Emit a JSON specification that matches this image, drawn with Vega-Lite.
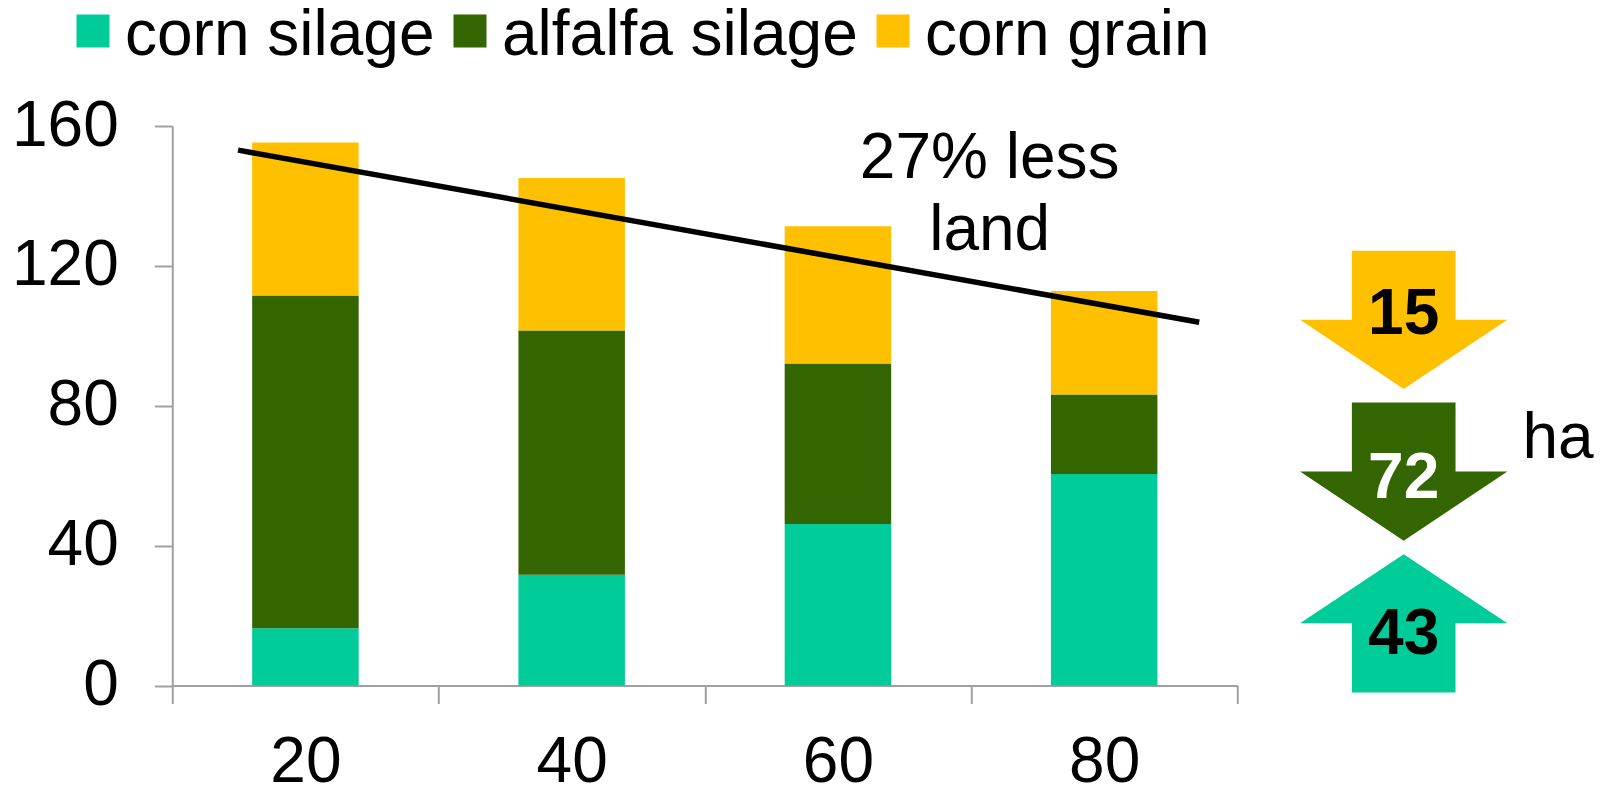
{
  "$schema": "https://vega.github.io/schema/vega-lite/v6.json",
  "width": 1065,
  "height": 559.5,
  "autosize": {"type": "none"},
  "padding": {"left": 172.3, "top": 126, "right": 372.7, "bottom": 103.5},
  "background": "white",
  "config": {
    "view": {"stroke": null},
    "font": "Liberation Sans",
    "text": {"font": "Liberation Sans"},
    "axis": {
      "grid": false,
      "title": null,
      "domainColor": "#a0a0a0",
      "domainWidth": 2,
      "tickColor": "#a0a0a0",
      "tickWidth": 2,
      "tickSize": 18,
      "labelFont": "Liberation Sans",
      "labelFontSize": 64,
      "labelColor": "black"
    }
  },
  "datasets": {
    "land": [
      {"level": "20", "crop": "corn silage", "tier": 1, "ha": 16.4},
      {"level": "20", "crop": "alfalfa silage", "tier": 2, "ha": 95.1},
      {"level": "20", "crop": "corn grain", "tier": 3, "ha": 43.8},
      {"level": "40", "crop": "corn silage", "tier": 1, "ha": 31.7},
      {"level": "40", "crop": "alfalfa silage", "tier": 2, "ha": 69.8},
      {"level": "40", "crop": "corn grain", "tier": 3, "ha": 43.6},
      {"level": "60", "crop": "corn silage", "tier": 1, "ha": 46.2},
      {"level": "60", "crop": "alfalfa silage", "tier": 2, "ha": 45.9},
      {"level": "60", "crop": "corn grain", "tier": 3, "ha": 39.2},
      {"level": "80", "crop": "corn silage", "tier": 1, "ha": 60.5},
      {"level": "80", "crop": "alfalfa silage", "tier": 2, "ha": 22.7},
      {"level": "80", "crop": "corn grain", "tier": 3, "ha": 29.6}
    ],
    "trend": [
      {"slot": 0.247, "ha": 153.1},
      {"slot": 3.857, "ha": 103.9}
    ],
    "shift": [
      {"crop": "corn grain", "ha": 15, "direction": "down"},
      {"crop": "alfalfa silage", "ha": 72, "direction": "down"},
      {"crop": "corn silage", "ha": 43, "direction": "up"}
    ]
  },
  "layer": [
    {
      "data": {"name": "land"},
      "mark": {"type": "bar", "width": {"band": 0.4}},
      "encoding": {
        "x": {
          "field": "level",
          "type": "ordinal",
          "scale": {"paddingInner": 0, "paddingOuter": 0},
          "axis": {"tickBand": "extent", "labelAngle": 0, "labelPadding": 27}
        },
        "y": {
          "field": "ha",
          "type": "quantitative",
          "stack": "zero",
          "scale": {"domain": [0, 160], "nice": false},
          "axis": {"values": [0, 40, 80, 120, 160], "labelPadding": 36}
        },
        "color": {
          "field": "crop",
          "type": "nominal",
          "scale": {
            "domain": ["corn silage", "alfalfa silage", "corn grain"],
            "range": ["#00CC99", "#336600", "#FFC000"]
          },
          "legend": {
            "title": null,
            "orient": "none",
            "direction": "horizontal",
            "legendX": -111.3,
            "legendY": -127,
            "padding": 0,
            "symbolType": "square",
            "symbolSize": 1089,
            "symbolStrokeWidth": 0,
            "labelFont": "Liberation Sans",
            "labelFontSize": 64,
            "labelColor": "black",
            "labelOffset": 0,
            "columnPadding": 3,
            "labelLimit": 600,
            "encode": {"labels": {"update": {"dy": {"value": 5}}}}
          }
        },
        "order": {"field": "tier", "type": "quantitative"}
      }
    },
    {
      "layer": [
        {
          "data": {"name": "trend"},
          "mark": {"type": "line", "color": "black", "strokeWidth": 5.5},
          "encoding": {
            "x": {"field": "slot", "type": "quantitative"},
            "y": {"field": "ha", "type": "quantitative"}
          }
        },
        {
          "data": {"values": [{}]},
          "mark": {
            "type": "text",
            "text": ["27% less", "land"],
            "fontSize": 64,
            "lineHeight": 71.7,
            "align": "center",
            "baseline": "alphabetic",
            "color": "black"
          },
          "encoding": {
            "x": {"datum": 3.07, "type": "quantitative"},
            "y": {"datum": 145, "type": "quantitative"}
          }
        }
      ],
      "encoding": {
        "x": {"scale": {"domain": [0, 4], "nice": false, "zero": false}, "axis": null},
        "y": {"scale": {"domain": [0, 160], "nice": false}, "axis": null}
      }
    },
    {
      "data": {"name": "shift"},
      "encoding": {
        "x": {"datum": 4.625, "type": "quantitative", "scale": {"domain": [0, 4], "nice": false, "zero": false}, "axis": null},
        "y": {
          "field": "crop",
          "type": "nominal",
          "scale": {
            "type": "point",
            "domain": ["corn grain", "alfalfa silage", "corn silage"],
            "padding": 0.8438,
            "align": 0.757
          },
          "axis": null
        }
      },
      "layer": [
        {
          "mark": {"type": "point", "filled": true, "size": 42973, "opacity": 1, "strokeWidth": 0},
          "encoding": {
            "color": {
              "field": "crop",
              "type": "nominal",
              "scale": {
                "domain": ["corn silage", "alfalfa silage", "corn grain"],
                "range": ["#00CC99", "#336600", "#FFC000"]
              },
              "legend": null
            },
            "shape": {
              "condition": {
                "test": "datum.direction === 'up'",
                "value": "M0,-0.667L1,0L0.5,0L0.5,0.667L-0.5,0.667L-0.5,0L-1,0Z"
              },
              "value": "M-0.5,-0.667L0.5,-0.667L0.5,0L1,0L0,0.667L-1,0L-0.5,0Z"
            }
          }
        },
        {
          "transform": [{"filter": "datum.crop === 'corn grain'"}],
          "mark": {"type": "text", "fontSize": 64, "fontWeight": "bold", "align": "center", "baseline": "alphabetic", "dy": 14.5, "color": "black"},
          "encoding": {"text": {"field": "ha", "type": "quantitative"}}
        },
        {
          "transform": [{"filter": "datum.crop === 'alfalfa silage'"}],
          "mark": {"type": "text", "fontSize": 64, "fontWeight": "bold", "align": "center", "baseline": "alphabetic", "dy": 26.8, "color": "white"},
          "encoding": {"text": {"field": "ha", "type": "quantitative"}}
        },
        {
          "transform": [{"filter": "datum.crop === 'corn silage'"}],
          "mark": {"type": "text", "fontSize": 64, "fontWeight": "bold", "align": "center", "baseline": "alphabetic", "dy": 30.7, "color": "black"},
          "encoding": {"text": {"field": "ha", "type": "quantitative"}}
        },
        {
          "transform": [{"filter": "datum.crop === 'alfalfa silage'"}],
          "mark": {"type": "text", "text": "ha", "fontSize": 64, "align": "left", "baseline": "alphabetic", "dy": -13.2, "color": "black"},
          "encoding": {"x": {"datum": 5.071, "type": "quantitative"}}
        }
      ]
    }
  ],
  "resolve": {
    "scale": {"x": "independent", "y": "independent", "color": "independent"}
  }
}
